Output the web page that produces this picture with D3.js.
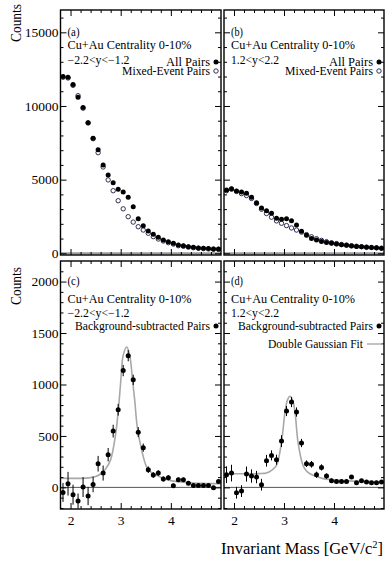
<!DOCTYPE html>
<html><head><meta charset="utf-8">
<script src="https://cdn.jsdelivr.net/npm/d3@7/dist/d3.min.js"></script>
<style>
body{margin:0;background:#fff;}
svg{display:block;}
text{font-family:"Liberation Serif","Times New Roman",serif;fill:#000;}
</style>
</head><body>
<svg id="chart" width="390" height="569"></svg>
<script>
// ---------------- data ----------------
const mass = [1.85,1.95,2.05,2.15,2.25,2.35,2.45,2.55,2.65,2.75,2.85,2.95,3.05,3.15,3.25,3.35,
              3.45,3.55,3.65,3.75,3.85,3.95,4.05,4.15,4.25,4.35,4.45,4.55,4.65,4.75,4.85,4.95];

const allPairsA   = [12000,11950,11450,10590,9890,8870,7810,7030,5995,5320,4790,4345,4160,3800,3165,2340,
                     1875,1515,1290,1085,900,790,680,565,515,450,405,360,340,320,300,285];
const mixedPairsA = [11950,11900,11400,10700,9850,8850,7780,6830,5860,4980,4250,3570,3020,2485,2120,1806,
                     1580,1360,1130,970,835,720,630,515,475,420,380,340,320,300,280,265];

const allPairsB   = [4300,4390,4230,4160,4070,3800,3440,3075,2890,2715,2375,2310,2350,2215,1920,1495,
                     1220,1000,900,800,740,680,630,580,540,500,470,440,410,390,370,350];
const mixedPairsB = [4250,4350,4200,4050,3920,3720,3380,2990,2700,2450,2200,2040,1880,1720,1580,1440,
                     1270,1120,990,880,790,720,660,600,560,520,480,450,420,395,370,345];

const subC    = [-49,36,-71,-133,3,-84,29,230,139,318,547,755,1135,1280,1045,537,
                 386,172,120,139,81,94,16,74,74,41,19,19,19,19,-3,57];
const subCErr = [92,115,97,73,97,89,76,76,73,65,62,57,55,55,50,49,
                 40,32,28,28,25,25,20,20,20,18,16,15,14,13,12,12];

const subD    = [123,139,-52,-36,129,110,100,26,259,311,269,450,742,829,732,431,
                 230,224,123,194,110,65,58,58,58,100,46,65,52,46,46,52];
const subDErr = [81,81,57,57,73,65,60,57,57,49,49,57,49,49,45,40,
                 32,32,30,30,25,22,20,20,20,18,16,15,14,13,12,12];

// Double-Gaussian fit curves
const fitCMass = [1.8,2.0,2.2,2.4,2.5,2.6,2.7,2.8,2.9,2.97,3.0,3.05,3.12,3.18,3.24,3.28,3.33,3.42,3.52,3.62,3.72,3.85,3.98,4.2,4.45,4.7,5.0];
const fitCVal  = [90,88,88,95,105,130,180,270,520,846,1024,1283,1364,1283,1024,846,590,360,197,140,117,88,68,52,42,38,35];
const fitDMass = [1.8,2.2,2.5,2.65,2.75,2.85,2.95,3.02,3.07,3.12,3.17,3.22,3.28,3.38,3.45,3.52,3.65,3.78,4.12,4.65,5.0];
const fitDVal  = [133,133,134,140,165,214,440,732,850,885,850,732,440,214,160,133,105,85,68,58,52];

const xTickLabels    = [2,3,4];
const yTickLabelsTop = [0,5000,10000,15000];
const yTickLabelsBot = [0,500,1000,1500,2000];

// ---------------- layout ----------------
const svg = d3.select("#chart");
const xDomain = [1.8, 5.0];
const cols = [[60.5,221],[224,384]];
const rows = [{r:[10,255], dom:[-115,16515], major:yTickLabelsTop, minorStep:1000},
              {r:[261,509], dom:[-210,2200], major:yTickLabelsBot, minorStep:100}];

const panels = [
  {col:0,row:0,tag:"(a)",rap:"\u22122.2<y<\u22121.2",rapW:62,type:"raw",all:allPairsA,mix:mixedPairsA,labels:true},
  {col:1,row:0,tag:"(b)",rap:"1.2<y<2.2",rapW:48,type:"raw",all:allPairsB,mix:mixedPairsB,labels:false},
  {col:0,row:1,tag:"(c)",rap:"\u22122.2<y<\u22121.2",rapW:62,type:"sub",val:subC,err:subCErr,fm:fitCMass,fv:fitCVal,labels:true,fitLegend:false},
  {col:1,row:1,tag:"(d)",rap:"1.2<y<2.2",rapW:48,type:"sub",val:subD,err:subDErr,fm:fitDMass,fv:fitDVal,labels:false,fitLegend:true}
];

const tickFont = "13.5px";
const fs = "12px";

function label(parent, x, y, str, width, anchor){
  const t = parent.append("text").attr("x",x).attr("y",y).style("font-size",fs)
    .attr("text-anchor",anchor||"start").text(str);
  if(width) t.attr("textLength",width).attr("lengthAdjust","spacingAndGlyphs");
  return t;
}

panels.forEach((p,i)=>{
  const [x0,x1] = cols[p.col];
  const row = rows[p.row];
  const [y0,y1] = row.r;
  const x = d3.scaleLinear().domain(xDomain).range([x0,x1]);
  const y = d3.scaleLinear().domain(row.dom).range([y1,y0]);
  const g = svg.append("g");
  const cid = "clip"+i;
  svg.append("clipPath").attr("id",cid).append("rect")
     .attr("x",x0).attr("y",y0).attr("width",x1-x0).attr("height",y1-y0);
  const pg = g.append("g").attr("clip-path",`url(#${cid})`);

  // zero line
  if(p.type==="raw"){
    pg.append("line").attr("x1",x0).attr("x2",x1).attr("y1",y(0)).attr("y2",y(0))
      .attr("stroke","#9a9a9a").attr("stroke-width",2.2);
  } else {
    pg.append("line").attr("x1",x0).attr("x2",x1).attr("y1",y(0)).attr("y2",y(0))
      .attr("stroke","#555").attr("stroke-width",1);
  }

  // axes (inward ticks on all four sides)
  const xMinor = d3.range(2.0,4.81,0.2).filter(v=>Math.abs(v-Math.round(v))>0.01);
  const yMinor = d3.range(Math.ceil(row.dom[0]/row.minorStep)*row.minorStep, row.dom[1], row.minorStep)
                   .filter(v=>!row.major.includes(v));
  const addAxis = (axisFn, scale, vals, size, tx, ty, fmt) => {
    const a = axisFn(scale).tickValues(vals).tickSize(size).tickPadding(3)
      .tickFormat(fmt || (()=>""));
    const ag = g.append("g").attr("transform",`translate(${tx},${ty})`).call(a);
    ag.select(".domain").remove();
    ag.selectAll("line").attr("stroke","#000").attr("stroke-width",1);
    ag.selectAll("text").style("font-size",tickFont).attr("fill","#000")
      .style("font-family","'Liberation Serif',serif");
    return ag;
  };
  const showX = p.row===1;
  const xb = addAxis(d3.axisBottom, x, xTickLabels, -6, 0, y1, showX ? d3.format("d") : null);
  if(showX) xb.selectAll("text").attr("y",6);
  addAxis(d3.axisBottom, x, xMinor, -3, 0, y1);
  addAxis(d3.axisTop, x, xTickLabels, -6, 0, y0);
  addAxis(d3.axisTop, x, xMinor, -3, 0, y0);
  const yl = addAxis(d3.axisLeft, y, row.major, -6, x0, 0, p.labels ? d3.format("d") : null);
  if(p.labels) yl.selectAll("text").attr("x",-2);
  addAxis(d3.axisLeft, y, yMinor, -3, x0, 0);
  addAxis(d3.axisRight, y, row.major, -6, x1, 0);
  addAxis(d3.axisRight, y, yMinor, -3, x1, 0);

  // frame
  g.append("rect").attr("x",x0).attr("y",y0).attr("width",x1-x0).attr("height",y1-y0)
    .attr("fill","none").attr("stroke","#000").attr("stroke-width",1.4);

  if(p.type==="raw"){
    pg.selectAll("circle.mix").data(p.mix).join("circle").attr("class","mix")
      .attr("cx",(d,k)=>x(mass[k])).attr("cy",d=>y(d)).attr("r",2.2)
      .attr("fill","#fff").attr("stroke","#1c1c40").attr("stroke-width",0.9);
    pg.selectAll("circle.all").data(p.all).join("circle").attr("class","all")
      .attr("cx",(d,k)=>x(mass[k])).attr("cy",d=>y(d)).attr("r",2.5).attr("fill","#000");
  } else {
    const line = d3.line().x((d,k)=>x(p.fm[k])).y(d=>y(d)).curve(d3.curveCatmullRom.alpha(0.5));
    pg.append("path").attr("d",line(p.fv)).attr("fill","none")
      .attr("stroke","#a8a8a8").attr("stroke-width",1.6);
    pg.selectAll("line.err").data(p.val).join("line").attr("class","err")
      .attr("x1",(d,k)=>x(mass[k])).attr("x2",(d,k)=>x(mass[k]))
      .attr("y1",(d,k)=>y(d-p.err[k])).attr("y2",(d,k)=>y(d+p.err[k]))
      .attr("stroke","#000").attr("stroke-width",1);
    pg.selectAll("circle.pt").data(p.val).join("circle").attr("class","pt")
      .attr("cx",(d,k)=>x(mass[k])).attr("cy",d=>y(d)).attr("r",2.5).attr("fill","#000");
  }

  // texts
  const tx = x0+7;
  label(g, tx, y0+(p.row===0?26:24), p.tag, 12);
  label(g, tx, y0+(p.row===0?39:42), "Cu+Au Centrality 0-10%", 124);
  label(g, tx, y0+(p.row===0?54:56), p.rap, p.rapW);
  const mx = x1-5, txr = x1-11;
  if(p.type==="raw"){
    label(g, txr, y0+56, "All Pairs", 44, "end");
    g.append("circle").attr("cx",mx).attr("cy",y0+52).attr("r",2.5).attr("fill","#000");
    label(g, txr, y0+65, "Mixed-Event Pairs", 88, "end");
    g.append("circle").attr("cx",mx).attr("cy",y0+61).attr("r",2.2).attr("fill","#fff").attr("stroke","#1c1c40").attr("stroke-width",0.9);
  } else {
    label(g, txr, y0+69, "Background-subtracted Pairs", 135, "end");
    g.append("circle").attr("cx",mx).attr("cy",y0+65).attr("r",2.5).attr("fill","#000");
    if(p.fitLegend){
      label(g, x1-21, y0+87, "Double Gaussian Fit", 95, "end");
      g.append("line").attr("x1",x1-17).attr("x2",x1-1).attr("y1",y0+83).attr("y2",y0+83)
        .attr("stroke","#a8a8a8").attr("stroke-width",1.4);
    }
  }
});

// axis titles
[[21,23],[21,286]].forEach(([xx,yy])=>{
  svg.append("text").attr("transform",`translate(${xx},${yy}) rotate(-90)`)
    .attr("text-anchor","middle").style("font-size","14.5px")
    .attr("textLength",38).attr("lengthAdjust","spacingAndGlyphs").text("Counts");
});
const xt = svg.append("text").attr("x",383).attr("y",554).attr("text-anchor","end").style("font-size","16.5px");
xt.append("tspan").text("Invariant Mass [GeV/c");
xt.append("tspan").attr("dy",-6).style("font-size","10.5px").text("2");
xt.append("tspan").attr("dy",6).text("]");
</script>
</body></html>
